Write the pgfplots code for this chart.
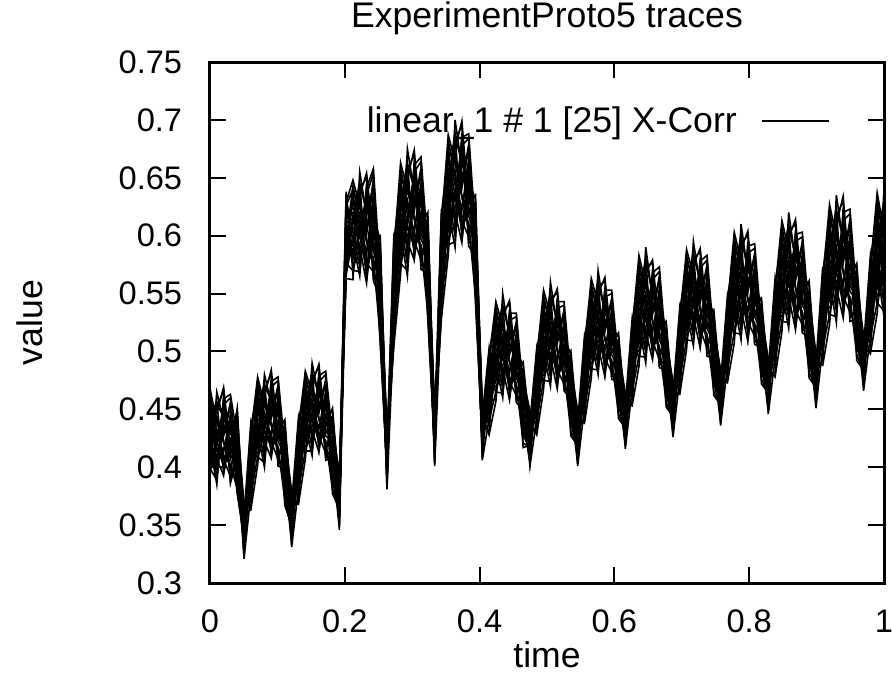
\documentclass[border=0pt]{standalone}
\usepackage{pgfplots}
\usepackage{pgfplotstable}
\pgfplotsset{compat=1.18}
\usepackage{fontspec}
\setmainfont{Liberation Sans}
\pgfplotstableread{
x c1 c2 c3 c4 c5 c6 c7 c8 c9 c10 c11 c12 c13 c14 c15 c16 c17 c18 c19 c20 c21 c22 c23 c24 c25
0 0.418 0.455 0.399 0.434 0.447 0.425 0.468 0.408 0.439 0.414 0.461 0.430 0.392 0.443 0.422 0.452 0.403 0.436 0.428 0.464 0.411 0.441 0.396 0.458 0.420
0.0101 0.444 0.417 0.389 0.452 0.428 0.404 0.439 0.421 0.458 0.410 0.396 0.433 0.465 0.414 0.447 0.424 0.400 0.441 0.392 0.431 0.455 0.407 0.419 0.437 0.385
0.0202 0.427 0.402 0.445 0.466 0.413 0.437 0.421 0.454 0.395 0.432 0.448 0.407 0.440 0.416 0.469 0.400 0.435 0.423 0.459 0.410 0.443 0.393 0.451 0.429 0.462
0.0303 0.453 0.411 0.431 0.386 0.446 0.419 0.400 0.460 0.425 0.437 0.407 0.392 0.451 0.433 0.415 0.442 0.423 0.397 0.463 0.403 0.429 0.440 0.413 0.456 0.388
0.0404 0.395 0.425 0.448 0.409 0.385 0.439 0.417 0.402 0.431 0.377 0.422 0.444 0.398 0.412 0.451 0.406 0.435 0.391 0.426 0.381 0.442 0.414 0.429 0.388 0.418
0.0505 0.349 0.368 0.334 0.329 0.353 0.344 0.364 0.323 0.358 0.339 0.336 0.361 0.347 0.326 0.351 0.332 0.369 0.342 0.356 0.337 0.321 0.359 0.346 0.335 0.366
0.0606 0.435 0.376 0.390 0.418 0.366 0.429 0.393 0.411 0.380 0.426 0.399 0.363 0.415 0.422 0.387 0.404 0.371 0.431 0.396 0.408 0.377 0.438 0.384 0.402 0.394
0.0707 0.465 0.409 0.444 0.457 0.435 0.478 0.418 0.449 0.424 0.471 0.440 0.402 0.453 0.432 0.462 0.413 0.446 0.438 0.474 0.421 0.451 0.406 0.468 0.430 0.428
0.0808 0.432 0.404 0.467 0.443 0.419 0.454 0.436 0.473 0.425 0.411 0.448 0.480 0.429 0.462 0.439 0.415 0.456 0.407 0.446 0.470 0.422 0.434 0.452 0.400 0.459
0.0909 0.417 0.460 0.481 0.428 0.452 0.436 0.469 0.410 0.447 0.463 0.422 0.455 0.431 0.484 0.415 0.450 0.438 0.474 0.425 0.458 0.408 0.466 0.444 0.477 0.442
0.1010 0.426 0.446 0.401 0.461 0.434 0.415 0.475 0.440 0.452 0.422 0.407 0.466 0.448 0.430 0.457 0.438 0.412 0.478 0.418 0.444 0.455 0.428 0.471 0.403 0.468
0.1111 0.415 0.438 0.399 0.375 0.429 0.407 0.392 0.421 0.367 0.412 0.434 0.388 0.402 0.441 0.396 0.425 0.381 0.416 0.371 0.432 0.404 0.419 0.378 0.408 0.385
0.1212 0.378 0.344 0.339 0.363 0.354 0.374 0.333 0.368 0.349 0.346 0.371 0.357 0.336 0.361 0.342 0.379 0.352 0.366 0.347 0.331 0.369 0.356 0.345 0.376 0.359
0.1313 0.381 0.395 0.423 0.371 0.434 0.398 0.416 0.385 0.431 0.404 0.368 0.420 0.427 0.392 0.409 0.376 0.436 0.401 0.413 0.382 0.443 0.389 0.407 0.399 0.440
0.1414 0.414 0.449 0.462 0.440 0.483 0.423 0.454 0.429 0.476 0.445 0.407 0.458 0.437 0.467 0.418 0.451 0.443 0.479 0.426 0.456 0.411 0.473 0.435 0.433 0.470
0.1515 0.414 0.477 0.453 0.429 0.464 0.446 0.483 0.435 0.421 0.458 0.490 0.439 0.472 0.449 0.425 0.466 0.417 0.456 0.480 0.432 0.444 0.462 0.410 0.469 0.442
0.1616 0.465 0.486 0.433 0.457 0.441 0.474 0.415 0.452 0.468 0.427 0.460 0.436 0.489 0.420 0.455 0.443 0.479 0.430 0.463 0.413 0.471 0.449 0.482 0.447 0.422
0.1717 0.451 0.406 0.466 0.439 0.420 0.480 0.445 0.457 0.427 0.412 0.471 0.453 0.435 0.462 0.443 0.417 0.483 0.423 0.449 0.460 0.433 0.476 0.408 0.473 0.431
0.1818 0.448 0.409 0.385 0.439 0.417 0.402 0.431 0.377 0.422 0.444 0.398 0.412 0.451 0.406 0.435 0.391 0.426 0.381 0.442 0.414 0.429 0.388 0.418 0.395 0.425
0.1919 0.359 0.354 0.378 0.369 0.389 0.348 0.383 0.364 0.361 0.386 0.372 0.351 0.376 0.357 0.394 0.367 0.381 0.362 0.346 0.384 0.371 0.360 0.391 0.374 0.393
0.2020 0.590 0.618 0.566 0.629 0.593 0.611 0.580 0.626 0.599 0.563 0.615 0.622 0.587 0.604 0.571 0.631 0.596 0.608 0.577 0.638 0.584 0.602 0.594 0.635 0.576
0.2121 0.610 0.624 0.599 0.648 0.580 0.615 0.587 0.640 0.605 0.562 0.620 0.596 0.630 0.575 0.612 0.603 0.643 0.584 0.617 0.567 0.637 0.594 0.591 0.633 0.570
0.2222 0.640 0.613 0.586 0.626 0.605 0.647 0.593 0.577 0.619 0.655 0.598 0.635 0.609 0.582 0.628 0.573 0.617 0.644 0.590 0.603 0.624 0.565 0.631 0.601 0.569
0.2323 0.650 0.584 0.614 0.594 0.635 0.561 0.608 0.628 0.576 0.618 0.587 0.654 0.567 0.611 0.596 0.641 0.580 0.621 0.559 0.631 0.604 0.645 0.601 0.570 0.624
0.2424 0.561 0.636 0.602 0.579 0.654 0.610 0.625 0.587 0.569 0.643 0.620 0.597 0.631 0.607 0.575 0.658 0.582 0.615 0.629 0.595 0.649 0.564 0.645 0.592 0.618
0.2525 0.547 0.517 0.585 0.558 0.539 0.575 0.507 0.564 0.591 0.534 0.551 0.600 0.544 0.580 0.525 0.569 0.512 0.589 0.554 0.573 0.521 0.559 0.530 0.568 0.596
0.2626 0.389 0.413 0.404 0.424 0.383 0.418 0.399 0.396 0.421 0.407 0.386 0.411 0.392 0.429 0.402 0.416 0.397 0.381 0.419 0.406 0.395 0.426 0.409 0.428 0.394
0.2727 0.573 0.507 0.586 0.541 0.564 0.525 0.583 0.549 0.504 0.569 0.578 0.534 0.555 0.514 0.589 0.545 0.560 0.521 0.598 0.530 0.553 0.542 0.594 0.520 0.537
0.2828 0.636 0.609 0.663 0.587 0.626 0.595 0.654 0.615 0.567 0.631 0.605 0.643 0.581 0.623 0.612 0.658 0.591 0.629 0.572 0.650 0.602 0.600 0.646 0.576 0.620
0.2929 0.624 0.591 0.639 0.614 0.665 0.599 0.580 0.631 0.675 0.605 0.650 0.619 0.586 0.642 0.575 0.628 0.661 0.595 0.612 0.637 0.565 0.646 0.609 0.570 0.657
0.3030 0.604 0.634 0.614 0.655 0.581 0.628 0.648 0.596 0.638 0.607 0.674 0.587 0.631 0.616 0.661 0.600 0.641 0.579 0.651 0.624 0.665 0.621 0.590 0.644 0.670
0.3131 0.646 0.612 0.589 0.664 0.620 0.635 0.597 0.579 0.653 0.630 0.607 0.641 0.617 0.585 0.668 0.592 0.625 0.639 0.605 0.659 0.574 0.655 0.602 0.628 0.571
0.3232 0.537 0.605 0.578 0.559 0.595 0.527 0.584 0.611 0.554 0.571 0.620 0.564 0.600 0.545 0.589 0.532 0.609 0.574 0.593 0.541 0.579 0.550 0.588 0.616 0.567
0.3333 0.433 0.424 0.444 0.403 0.438 0.419 0.416 0.441 0.427 0.406 0.431 0.412 0.449 0.422 0.436 0.417 0.401 0.439 0.426 0.415 0.446 0.429 0.448 0.414 0.409
0.3434 0.532 0.611 0.566 0.589 0.550 0.608 0.574 0.529 0.594 0.603 0.559 0.580 0.539 0.614 0.570 0.585 0.546 0.623 0.555 0.578 0.567 0.619 0.545 0.562 0.598
0.3535 0.628 0.687 0.605 0.647 0.613 0.678 0.635 0.583 0.653 0.624 0.665 0.598 0.643 0.632 0.682 0.609 0.650 0.588 0.674 0.621 0.618 0.669 0.592 0.641 0.658
0.3636 0.616 0.664 0.639 0.690 0.624 0.605 0.656 0.700 0.630 0.675 0.644 0.611 0.667 0.600 0.653 0.686 0.620 0.637 0.662 0.590 0.671 0.634 0.595 0.682 0.649
0.3737 0.655 0.633 0.678 0.597 0.648 0.670 0.613 0.659 0.626 0.699 0.604 0.652 0.635 0.685 0.617 0.663 0.594 0.674 0.644 0.689 0.641 0.606 0.666 0.695 0.622
0.3838 0.632 0.609 0.684 0.640 0.655 0.617 0.599 0.673 0.650 0.627 0.661 0.637 0.605 0.688 0.612 0.645 0.659 0.625 0.679 0.594 0.675 0.622 0.648 0.591 0.666
0.3939 0.620 0.593 0.574 0.610 0.542 0.599 0.626 0.569 0.586 0.635 0.579 0.615 0.560 0.604 0.547 0.624 0.589 0.608 0.556 0.594 0.565 0.603 0.631 0.582 0.552
0.4040 0.429 0.449 0.408 0.443 0.424 0.421 0.446 0.432 0.411 0.436 0.417 0.454 0.427 0.441 0.422 0.406 0.444 0.431 0.420 0.451 0.434 0.453 0.419 0.414 0.438
0.4141 0.494 0.458 0.476 0.445 0.491 0.464 0.428 0.480 0.487 0.452 0.469 0.436 0.496 0.461 0.473 0.442 0.503 0.449 0.467 0.459 0.500 0.441 0.455 0.483 0.431
0.4242 0.543 0.475 0.510 0.482 0.535 0.500 0.457 0.515 0.491 0.525 0.470 0.507 0.498 0.538 0.479 0.512 0.462 0.532 0.489 0.486 0.528 0.465 0.505 0.519 0.494
0.4343 0.521 0.500 0.542 0.488 0.472 0.514 0.550 0.493 0.530 0.504 0.477 0.523 0.468 0.512 0.539 0.485 0.498 0.519 0.460 0.526 0.496 0.464 0.535 0.508 0.481
0.4444 0.490 0.527 0.461 0.502 0.520 0.474 0.511 0.484 0.544 0.466 0.506 0.492 0.533 0.477 0.515 0.458 0.524 0.499 0.536 0.497 0.468 0.517 0.541 0.481 0.508
0.4545 0.470 0.530 0.495 0.507 0.477 0.462 0.521 0.503 0.485 0.512 0.493 0.467 0.533 0.473 0.499 0.510 0.483 0.526 0.458 0.523 0.481 0.501 0.456 0.516 0.489
0.4646 0.457 0.442 0.471 0.417 0.462 0.484 0.438 0.452 0.491 0.446 0.475 0.431 0.466 0.421 0.482 0.454 0.469 0.428 0.458 0.435 0.465 0.488 0.449 0.425 0.479
0.4747 0.444 0.403 0.438 0.419 0.416 0.441 0.427 0.406 0.431 0.412 0.449 0.422 0.436 0.417 0.401 0.439 0.426 0.415 0.446 0.429 0.448 0.414 0.409 0.433 0.424
0.4848 0.458 0.476 0.445 0.491 0.464 0.428 0.480 0.487 0.452 0.469 0.436 0.496 0.461 0.473 0.442 0.503 0.449 0.467 0.459 0.500 0.441 0.455 0.483 0.431 0.494
0.4949 0.485 0.520 0.492 0.545 0.510 0.467 0.525 0.501 0.535 0.480 0.517 0.508 0.548 0.489 0.522 0.472 0.542 0.499 0.496 0.538 0.475 0.515 0.529 0.504 0.553
0.5051 0.510 0.552 0.498 0.482 0.524 0.560 0.503 0.540 0.514 0.487 0.533 0.478 0.522 0.549 0.495 0.508 0.529 0.470 0.536 0.506 0.474 0.545 0.518 0.491 0.531
0.5152 0.537 0.471 0.512 0.530 0.484 0.521 0.494 0.554 0.476 0.516 0.502 0.543 0.487 0.525 0.468 0.534 0.509 0.546 0.507 0.478 0.527 0.551 0.491 0.518 0.500
0.5253 0.540 0.505 0.517 0.487 0.472 0.531 0.513 0.495 0.522 0.503 0.477 0.543 0.483 0.509 0.520 0.493 0.536 0.468 0.533 0.491 0.511 0.466 0.526 0.499 0.480
0.5354 0.452 0.481 0.427 0.472 0.494 0.448 0.462 0.501 0.456 0.485 0.441 0.476 0.431 0.492 0.464 0.479 0.438 0.468 0.445 0.475 0.498 0.459 0.435 0.489 0.467
0.5455 0.403 0.438 0.419 0.416 0.441 0.427 0.406 0.431 0.412 0.449 0.422 0.436 0.417 0.401 0.439 0.426 0.415 0.446 0.429 0.448 0.414 0.409 0.433 0.424 0.444
0.5556 0.486 0.455 0.501 0.474 0.438 0.490 0.497 0.462 0.479 0.446 0.506 0.471 0.483 0.452 0.513 0.459 0.477 0.469 0.510 0.451 0.465 0.493 0.441 0.504 0.468
0.5657 0.530 0.502 0.555 0.520 0.477 0.535 0.511 0.545 0.490 0.527 0.518 0.558 0.499 0.532 0.482 0.552 0.509 0.506 0.548 0.485 0.525 0.539 0.514 0.563 0.495
0.5758 0.562 0.508 0.492 0.534 0.570 0.513 0.550 0.524 0.497 0.543 0.488 0.532 0.559 0.505 0.518 0.539 0.480 0.546 0.516 0.484 0.555 0.528 0.501 0.541 0.520
0.5859 0.481 0.522 0.540 0.494 0.531 0.504 0.564 0.486 0.526 0.512 0.553 0.497 0.535 0.478 0.544 0.519 0.556 0.517 0.488 0.537 0.561 0.501 0.528 0.510 0.547
0.5960 0.515 0.527 0.497 0.482 0.541 0.523 0.505 0.532 0.513 0.487 0.553 0.493 0.519 0.530 0.503 0.546 0.478 0.543 0.501 0.521 0.476 0.536 0.509 0.490 0.550
0.6061 0.496 0.442 0.487 0.509 0.463 0.477 0.516 0.471 0.500 0.456 0.491 0.446 0.507 0.479 0.494 0.453 0.483 0.460 0.490 0.513 0.474 0.450 0.504 0.482 0.467
0.6162 0.453 0.434 0.431 0.456 0.442 0.421 0.446 0.427 0.464 0.437 0.451 0.432 0.416 0.454 0.441 0.430 0.461 0.444 0.463 0.429 0.424 0.448 0.439 0.459 0.418
0.6263 0.470 0.516 0.489 0.453 0.505 0.512 0.477 0.494 0.461 0.521 0.486 0.498 0.467 0.528 0.474 0.492 0.484 0.525 0.466 0.480 0.508 0.456 0.519 0.483 0.501
0.6364 0.515 0.574 0.535 0.487 0.551 0.525 0.563 0.501 0.543 0.532 0.578 0.511 0.549 0.492 0.570 0.522 0.520 0.566 0.496 0.540 0.556 0.529 0.583 0.507 0.546
0.6465 0.521 0.504 0.550 0.590 0.526 0.568 0.539 0.509 0.560 0.499 0.548 0.578 0.517 0.532 0.555 0.490 0.564 0.530 0.495 0.574 0.544 0.514 0.558 0.535 0.581
0.6566 0.537 0.555 0.509 0.546 0.519 0.579 0.501 0.541 0.527 0.568 0.512 0.550 0.493 0.559 0.534 0.571 0.532 0.503 0.552 0.576 0.516 0.543 0.525 0.562 0.496
0.6667 0.544 0.510 0.493 0.559 0.539 0.519 0.549 0.528 0.498 0.573 0.505 0.535 0.547 0.516 0.565 0.488 0.562 0.514 0.537 0.486 0.554 0.523 0.502 0.569 0.530
0.6768 0.452 0.497 0.519 0.473 0.487 0.526 0.481 0.510 0.466 0.501 0.456 0.517 0.489 0.504 0.463 0.493 0.470 0.500 0.523 0.484 0.460 0.514 0.492 0.477 0.506
0.6869 0.444 0.441 0.466 0.452 0.431 0.456 0.437 0.474 0.447 0.461 0.442 0.426 0.464 0.451 0.440 0.471 0.454 0.473 0.439 0.434 0.458 0.449 0.469 0.428 0.463
0.6970 0.526 0.499 0.463 0.515 0.522 0.487 0.504 0.471 0.531 0.496 0.508 0.477 0.538 0.484 0.502 0.494 0.535 0.476 0.490 0.518 0.466 0.529 0.493 0.511 0.480
0.7071 0.580 0.545 0.502 0.560 0.536 0.570 0.515 0.552 0.543 0.583 0.524 0.557 0.507 0.577 0.534 0.531 0.573 0.510 0.550 0.564 0.539 0.588 0.520 0.555 0.527
0.7172 0.517 0.559 0.595 0.538 0.575 0.549 0.522 0.568 0.513 0.557 0.584 0.530 0.543 0.564 0.505 0.571 0.541 0.509 0.580 0.553 0.526 0.566 0.545 0.587 0.533
0.7273 0.565 0.519 0.556 0.529 0.589 0.511 0.551 0.537 0.578 0.522 0.560 0.503 0.569 0.544 0.581 0.542 0.513 0.562 0.586 0.526 0.553 0.535 0.572 0.506 0.547
0.7374 0.520 0.503 0.569 0.549 0.529 0.559 0.538 0.508 0.583 0.515 0.545 0.557 0.526 0.575 0.498 0.572 0.524 0.547 0.496 0.564 0.533 0.512 0.579 0.540 0.554
0.7475 0.507 0.529 0.483 0.497 0.536 0.491 0.520 0.476 0.511 0.466 0.527 0.499 0.514 0.473 0.503 0.480 0.510 0.533 0.494 0.470 0.524 0.502 0.487 0.516 0.462
0.7576 0.451 0.476 0.462 0.441 0.466 0.447 0.484 0.457 0.471 0.452 0.436 0.474 0.461 0.450 0.481 0.464 0.483 0.449 0.444 0.468 0.459 0.479 0.438 0.473 0.454
0.7677 0.509 0.473 0.525 0.532 0.497 0.514 0.481 0.541 0.506 0.518 0.487 0.548 0.494 0.512 0.504 0.545 0.486 0.500 0.528 0.476 0.539 0.503 0.521 0.490 0.536
0.7778 0.555 0.507 0.571 0.545 0.583 0.521 0.563 0.552 0.598 0.531 0.569 0.512 0.590 0.542 0.540 0.586 0.516 0.560 0.576 0.549 0.603 0.527 0.566 0.535 0.594
0.7879 0.570 0.610 0.546 0.588 0.559 0.529 0.580 0.519 0.568 0.598 0.537 0.552 0.575 0.510 0.584 0.550 0.515 0.594 0.564 0.534 0.578 0.555 0.601 0.541 0.524
0.7980 0.526 0.568 0.537 0.604 0.517 0.561 0.546 0.591 0.530 0.571 0.509 0.581 0.554 0.595 0.551 0.520 0.574 0.600 0.534 0.564 0.544 0.585 0.511 0.558 0.578
0.8081 0.513 0.579 0.559 0.539 0.569 0.548 0.518 0.593 0.525 0.555 0.567 0.536 0.585 0.508 0.582 0.534 0.557 0.506 0.574 0.543 0.522 0.589 0.550 0.564 0.530
0.8182 0.539 0.493 0.507 0.546 0.501 0.530 0.486 0.521 0.476 0.537 0.509 0.524 0.483 0.513 0.490 0.520 0.543 0.504 0.480 0.534 0.512 0.497 0.526 0.472 0.517
0.8283 0.486 0.472 0.451 0.476 0.457 0.494 0.467 0.481 0.462 0.446 0.484 0.471 0.460 0.491 0.474 0.493 0.459 0.454 0.478 0.469 0.489 0.448 0.483 0.464 0.461
0.8384 0.478 0.537 0.545 0.505 0.525 0.487 0.555 0.515 0.529 0.494 0.563 0.502 0.522 0.513 0.559 0.493 0.509 0.540 0.482 0.553 0.512 0.532 0.497 0.549 0.519
0.8485 0.517 0.581 0.555 0.593 0.531 0.573 0.562 0.608 0.541 0.579 0.522 0.600 0.552 0.550 0.596 0.526 0.570 0.586 0.559 0.613 0.537 0.576 0.545 0.604 0.565
0.8586 0.620 0.556 0.598 0.569 0.539 0.590 0.529 0.578 0.608 0.547 0.562 0.585 0.520 0.594 0.560 0.525 0.604 0.574 0.544 0.588 0.565 0.611 0.551 0.534 0.580
0.8687 0.578 0.547 0.614 0.527 0.571 0.556 0.601 0.540 0.581 0.519 0.591 0.564 0.605 0.561 0.530 0.584 0.610 0.544 0.574 0.554 0.595 0.521 0.568 0.588 0.536
0.8788 0.589 0.569 0.549 0.579 0.558 0.528 0.603 0.535 0.565 0.577 0.546 0.595 0.518 0.592 0.544 0.567 0.516 0.584 0.553 0.532 0.599 0.560 0.574 0.540 0.523
0.8889 0.501 0.517 0.561 0.510 0.543 0.493 0.532 0.482 0.550 0.519 0.536 0.490 0.523 0.497 0.531 0.557 0.513 0.486 0.547 0.522 0.505 0.538 0.477 0.528 0.553
0.8990 0.477 0.456 0.481 0.462 0.499 0.472 0.486 0.467 0.451 0.489 0.476 0.465 0.496 0.479 0.498 0.464 0.459 0.483 0.474 0.494 0.453 0.488 0.469 0.466 0.491
0.9091 0.547 0.555 0.515 0.535 0.497 0.565 0.525 0.539 0.504 0.573 0.512 0.532 0.523 0.569 0.503 0.519 0.550 0.492 0.563 0.522 0.542 0.507 0.559 0.529 0.488
0.9192 0.593 0.564 0.605 0.538 0.583 0.572 0.622 0.549 0.590 0.528 0.614 0.561 0.558 0.609 0.532 0.581 0.598 0.568 0.627 0.545 0.587 0.553 0.618 0.575 0.523
0.9293 0.565 0.610 0.579 0.546 0.602 0.535 0.588 0.621 0.555 0.572 0.597 0.525 0.606 0.569 0.530 0.617 0.584 0.551 0.599 0.574 0.625 0.559 0.540 0.591 0.635
0.9394 0.561 0.634 0.539 0.587 0.570 0.620 0.552 0.598 0.529 0.609 0.579 0.624 0.576 0.541 0.601 0.630 0.557 0.590 0.568 0.613 0.532 0.583 0.605 0.548 0.594
0.9495 0.585 0.562 0.596 0.572 0.540 0.623 0.547 0.580 0.594 0.560 0.614 0.529 0.610 0.557 0.583 0.526 0.601 0.567 0.544 0.619 0.575 0.590 0.552 0.534 0.608
0.9596 0.532 0.576 0.525 0.558 0.508 0.547 0.497 0.565 0.534 0.551 0.505 0.538 0.512 0.546 0.572 0.528 0.501 0.562 0.537 0.520 0.553 0.492 0.543 0.568 0.516
0.9697 0.471 0.496 0.477 0.514 0.487 0.501 0.482 0.466 0.504 0.491 0.480 0.511 0.494 0.513 0.479 0.474 0.498 0.489 0.509 0.468 0.503 0.484 0.481 0.506 0.492
0.9798 0.565 0.525 0.545 0.507 0.575 0.535 0.549 0.514 0.583 0.522 0.542 0.533 0.579 0.513 0.529 0.560 0.502 0.573 0.532 0.552 0.517 0.569 0.539 0.498 0.557
0.9899 0.574 0.615 0.548 0.593 0.582 0.632 0.559 0.600 0.538 0.624 0.571 0.568 0.619 0.542 0.591 0.608 0.578 0.637 0.555 0.597 0.563 0.628 0.585 0.533 0.603
1 0.615 0.584 0.551 0.607 0.540 0.593 0.626 0.560 0.577 0.602 0.530 0.611 0.574 0.535 0.622 0.589 0.556 0.604 0.579 0.630 0.564 0.545 0.596 0.640 0.570
}\tracedata
\begin{document}
\begin{tikzpicture}
\begin{axis}[
  scale only axis,
  width=337pt, height=260.5pt,
  xmin=0, xmax=1, ymin=0.3, ymax=0.75,
  xtick={0,0.2,0.4,0.6,0.8,1},
  xticklabels={0,0.2,0.4,0.6,0.8,1},
  ytick={0.3,0.35,0.4,0.45,0.5,0.55,0.6,0.65,0.7,0.75},
  yticklabels={0.3,0.35,0.4,0.45,0.5,0.55,0.6,0.65,0.7,0.75},
  tick align=inside,
  tick pos=both,
  major tick length=7.8pt,
  every tick/.style={black, line width=1pt},
  axis line style={line width=1.5pt},
  tick label style={font=\fontsize{16.3pt}{19pt}\selectfont},
  xticklabel style={anchor=base, inner sep=0pt, yshift=-24.5pt},
  yticklabel style={anchor=east, inner sep=0pt, xshift=-13.75pt},
  title={ExperimentProto5 traces},
  title style={font=\fontsize{17.8pt}{21pt}\selectfont, at={(0.5,1.0441)}, anchor=base, inner sep=0pt},
  xlabel={time},
  xlabel style={font=\fontsize{17.8pt}{21pt}\selectfont, at={(0.5,-0.1631)}, anchor=base, inner sep=0pt},
  ylabel={value},
  ylabel style={font=\fontsize{17.8pt}{21pt}\selectfont, at={(-0.2478,0.5)}, anchor=base, inner sep=0pt},
  legend plot pos=right,
  legend cell align=right,
  legend style={draw=none, fill=none, at={(1,0.8868)}, anchor=east, xshift=-27pt,
    inner sep=0pt, outer sep=0pt, column sep=12.5pt,
    nodes={inner sep=0pt}, font=\fontsize{17.8pt}{21pt}\selectfont},
  legend image code/.code={\draw[#1, line width=0.6pt] (0pt,0pt) -- (33.5pt,0pt);},
  trace/.style={black, line width=0.8pt, mark=none, line join=miter},
]
\addplot[trace] table[x index=0, y index=1] {\tracedata};
\addlegendentry{linear\_1 \# 1 [25] X-Corr}
\pgfplotsinvokeforeach{2,...,25}{
  \addplot[trace, forget plot] table[x index=0, y index=#1] {\tracedata};
}
\end{axis}
\pgfresetboundingbox
\path[use as bounding box] ([xshift=-105pt,yshift=-46.5pt]current axis.south west) rectangle ([xshift=4pt,yshift=31pt]current axis.north east);
\end{tikzpicture}
\end{document}
